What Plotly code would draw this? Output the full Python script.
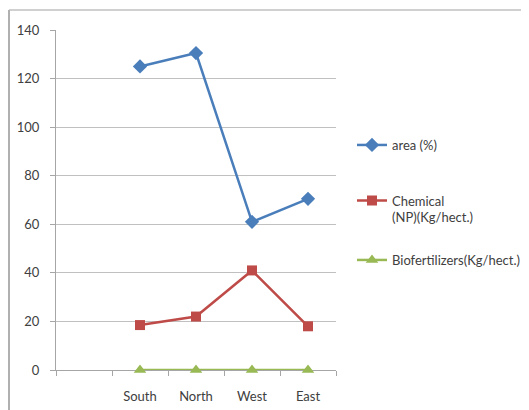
import plotly.graph_objects as go

categories = ["", "South", "North", "West", "East"]
area = [None, 125, 130.5, 61, 70.5]
chemical = [None, 18.5, 22, 41, 18]
bio = [None, 0, 0, 0, 0]
y_ticks = [0, 20, 40, 60, 80, 100, 120, 140]

x_pos = list(range(len(categories)))

FONT = "Lato, Liberation Sans, Arial"
FS = 13
TXT = "#404040"

fig = go.Figure()
fig.add_trace(go.Scatter(
    x=x_pos, y=area, mode="lines+markers", name="area (%)",
    line=dict(color="#4A7EBB", width=2.5),
    marker=dict(symbol="diamond", size=11, color="#4A7EBB"),
    cliponaxis=False, legend="legend"))
fig.add_trace(go.Scatter(
    x=x_pos, y=chemical, mode="lines+markers", name="Chemical<br>(NP)(Kg/hect.)",
    line=dict(color="#BE4B48", width=2.5),
    marker=dict(symbol="square", size=10, color="#BE4B48"),
    cliponaxis=False, legend="legend2"))
fig.add_trace(go.Scatter(
    x=x_pos, y=bio, mode="lines+markers", name="Biofertilizers(Kg/hect.)",
    line=dict(color="#98B954", width=2.5),
    marker=dict(symbol="triangle-up", size=11, color="#98B954"),
    cliponaxis=False, legend="legend3"))

# page body has an 8px margin; plot area target on screen: x 56..336, y 30..370
def px_x(px):
    return (px - 56) / 280.0

def px_y(py):
    return (370 - py) / 340.0

leg_common = dict(xref="paper", yref="paper", xanchor="left",
                  bgcolor="rgba(0,0,0,0)", font=dict(family=FONT, size=FS, color=TXT),
                  itemwidth=30)

fig.update_layout(
    width=529, height=410,
    margin=dict(l=48, r=201, t=22, b=48, autoexpand=False),
    paper_bgcolor="white", plot_bgcolor="white",
    font=dict(family=FONT, size=FS, color=TXT),
    showlegend=True,
    legend=dict(x=px_x(352), y=px_y(145), yanchor="middle", **leg_common),
    legend2=dict(x=px_x(352), y=px_y(209), yanchor="middle", valign="top", **leg_common),
    legend3=dict(x=px_x(352), y=px_y(260), yanchor="middle", **leg_common),
    xaxis=dict(
        range=[-0.5, len(categories) - 0.5],
        tickvals=x_pos, ticktext=categories,
        ticks="", showgrid=False, zeroline=False,
        showline=True, linecolor="#A6A6A6", linewidth=1,
        layer="below traces",
        ticklabelstandoff=14,
        tickfont=dict(family=FONT, size=FS, color=TXT),
        minor=dict(ticks="outside", tick0=0.5, dtick=1, ticklen=5,
                   tickcolor="#A6A6A6", showgrid=False),
    ),
    yaxis=dict(
        range=[0, 140], tickvals=y_ticks,
        ticks="outside", ticklen=5, tickcolor="#A6A6A6",
        showgrid=True, gridcolor="#C0C0C0", gridwidth=1,
        zeroline=False, showline=True, linecolor="#A6A6A6", linewidth=1,
        layer="below traces",
        ticklabelstandoff=8,
        tickfont=dict(family=FONT, size=FS, color=TXT),
    ),
    shapes=[
        dict(type="line", xref="paper", yref="paper",
             x0=px_x(9), x1=px_x(529), y0=px_y(10), y1=px_y(10),
             line=dict(color="#D0D0D0", width=2)),
        dict(type="line", xref="paper", yref="paper",
             x0=px_x(9), x1=px_x(9), y0=px_y(10), y1=px_y(410),
             line=dict(color="#B0B0B0", width=2)),
    ],
)

fig.write_html("out.html")
